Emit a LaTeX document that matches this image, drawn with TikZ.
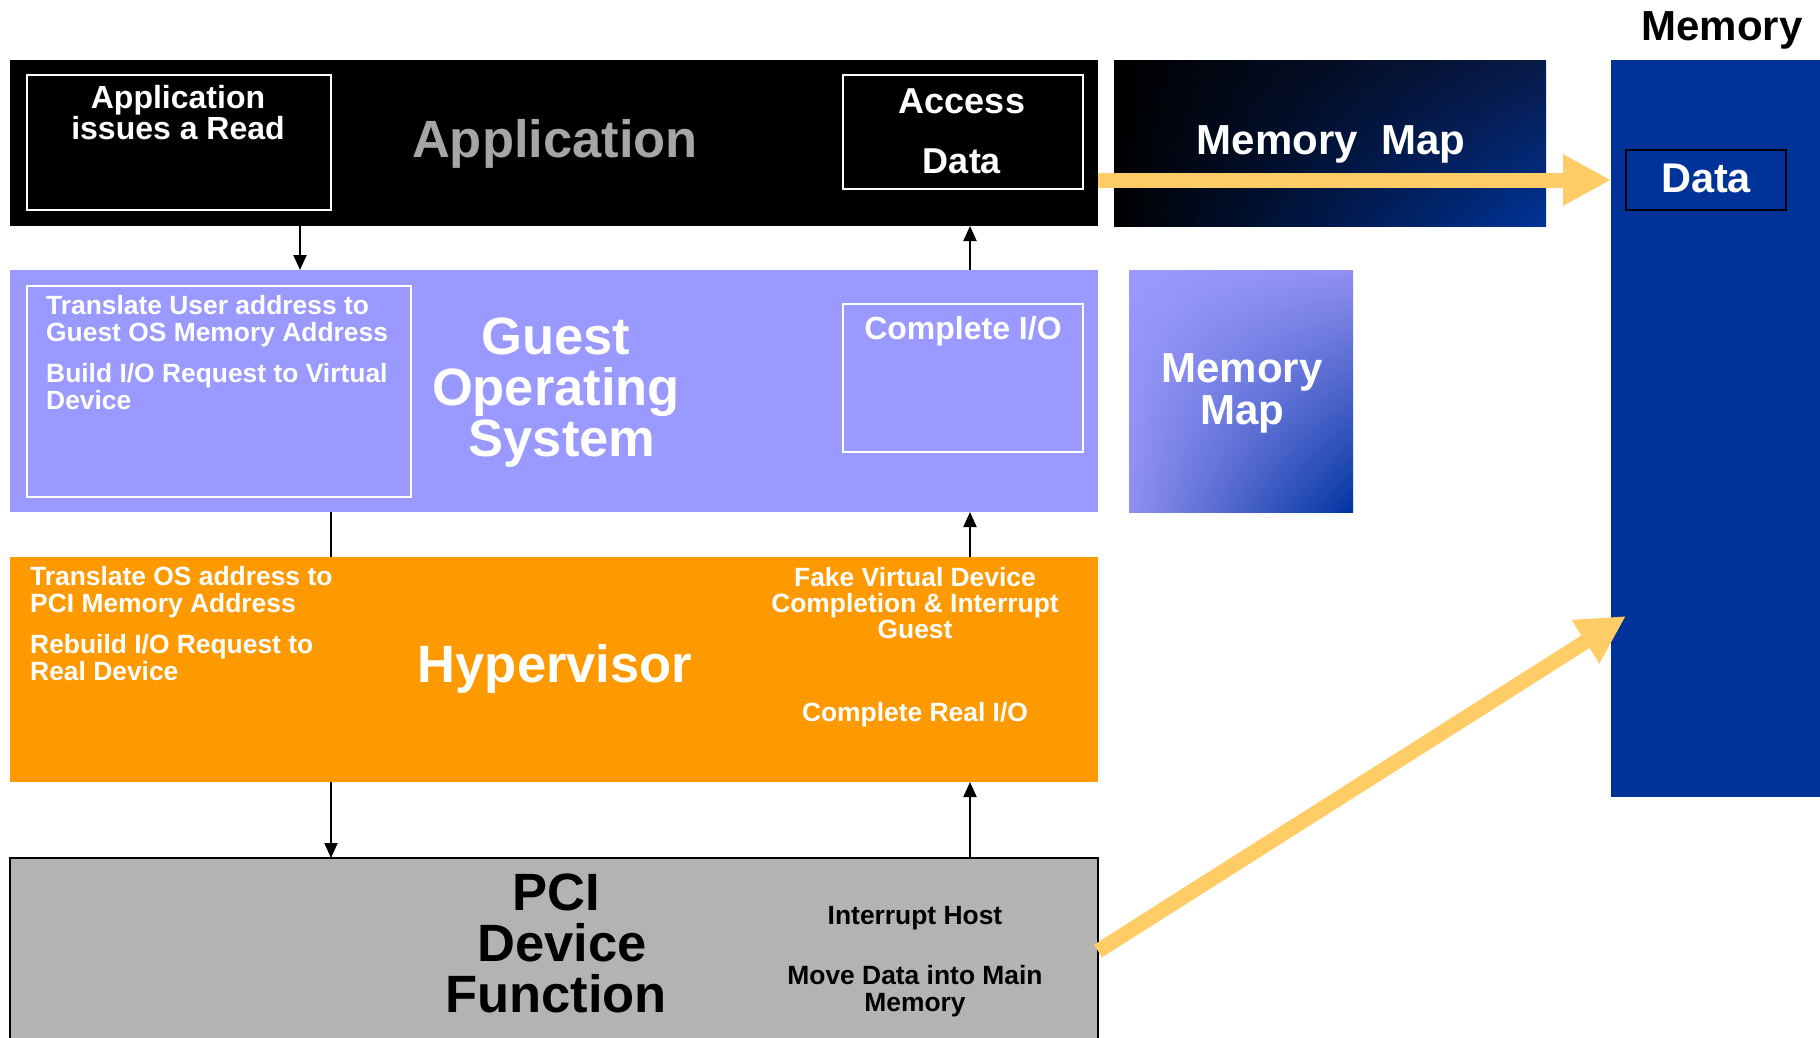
\documentclass[tikz,border=0pt]{standalone}
\usepackage{fontspec}
\setmainfont{Liberation Sans}
\usetikzlibrary{arrows.meta,calc,shadings}
\definecolor{purp}{HTML}{9999FF}
\definecolor{orng}{HTML}{FF9900}
\definecolor{memblue}{HTML}{003399}
\definecolor{yel}{HTML}{FFCC66}
\definecolor{pcigray}{HTML}{B3B3B3}
\definecolor{apptxt}{HTML}{A6A6A6}
\definecolor{darkur}{HTML}{081A48}
\definecolor{mpur}{HTML}{9090F0}
\definecolor{mlr}{HTML}{0033A0}
\begin{document}
\begin{tikzpicture}[x=1pt,y=-1pt,
  layer/.style={rectangle, anchor=north west, inner sep=0pt, outer sep=0pt},
  wbox/.style={layer, draw=white, line width=2.5pt},
  txt/.style={inner sep=0pt, text=white},
  fs/.style={font=\bfseries\fontsize{26.4}{27}\selectfont},
  fm/.style={font=\bfseries\fontsize{32}{31}\selectfont},
  fl/.style={font=\bfseries\fontsize{42}{42}\selectfont},
  fxl/.style={font=\bfseries\fontsize{52.5}{51}\selectfont},
  conn/.style={draw=black, line width=2pt, -{Triangle[length=15pt,width=13pt]}},
  plainconn/.style={draw=black, line width=2pt},
  bigarrow/.style={draw=yel, line width=15pt, -{Triangle[length=48pt,width=48pt]}},
]
\useasboundingbox (0,0) rectangle (1820,1037);
\fill[white] (0,0) rectangle (1820,1037);

% layers
\node[layer, fill=black, minimum width=1088pt, minimum height=166pt] (app) at (10,60) {};
\node[wbox, minimum width=304pt, minimum height=135pt] (appin) at (27,75) {};
\node[wbox, minimum width=240pt, minimum height=114pt] (accbox) at (843,75) {};
\node[layer, shading=bilinear interpolation, upper left=black, lower left=black, upper right=darkur, lower right=memblue, minimum width=432pt, minimum height=166pt] (mmapd) at (1114,60) {};
\node[layer, fill=memblue, minimum width=212pt, minimum height=737pt] (memcol) at (1611,60) {};
\node[layer, fill=memblue, draw=black, line width=2.5pt, minimum width=160pt, minimum height=60pt] (databox) at (1626,150) {};

\node[layer, fill=purp, minimum width=1088pt, minimum height=242pt] (guest) at (10,270) {};
\node[wbox, minimum width=384pt, minimum height=211pt] (guestin) at (27,286) {};
\node[wbox, minimum width=240pt, minimum height=148pt] (ciobox) at (843,304) {};
\node[layer, shading=bilinear interpolation, upper left=purp, upper right=mpur, lower left=mpur, lower right=mlr, minimum width=224pt, minimum height=242pt] (mmapp) at (1129,270) {};

\node[layer, fill=orng, minimum width=1088pt, minimum height=225pt] (hyp) at (10,557) {};
\node[layer, fill=pcigray, draw=black, line width=2.5pt, minimum width=1088pt, minimum height=200pt] (pci) at (10,858) {};

% texts
\node[txt, fm, align=center] (appread) at (178,113) {Application\\issues a Read};
\node[txt, fxl, text=apptxt] (apptitle) at (555,144) {Application};
\node[txt, font=\bfseries\fontsize{36}{60}\selectfont, align=center] (acctxt) at (962,131) {Access\\Data};
\node[txt, fl] (mmapdtxt) at (1331,144) {Memory\ \ Map};
\node[inner sep=0pt, fl, text=black] (memtitle) at (1722,30) {Memory};
\node[txt, font=\bfseries\fontsize{41.5}{42}\selectfont] (datatxt) at ([yshift=2pt]databox.center) {Data};

\node[txt, fs, align=left, anchor=north west] (guesttxt) at (46,295) {Translate User address to\\Guest OS Memory Address\\[14pt]Build I/O Request to Virtual\\Device};
\node[txt, fxl, align=center] (guesttitle) at (556,393) {Guest\\Operating\\\hspace{12pt}System};
\node[txt, font=\bfseries\fontsize{32}{32}\selectfont] (ciotxt) at (963,331) {Complete I/O};
\node[txt, fl, align=center] (mmapptxt) at (1242,393) {Memory\\Map};

\node[txt, fs, align=left, anchor=north west] (hyptxt) at (30,566) {Translate OS address to\\PCI Memory Address\\[14pt]Rebuild I/O Request to\\Real Device};
\node[txt, fxl] (hyptitle) at (555,669) {Hypervisor};
\node[txt, font=\bfseries\fontsize{26.4}{26}\selectfont, align=center] (fake) at (915,603) {Fake Virtual Device\\Completion \& Interrupt\\Guest};
\node[txt, fs] (realio) at (915,715) {Complete Real I/O};

\node[inner sep=0pt, fxl, text=black, align=center] (pcititle) at (556,943) {PCI\\\hspace{12pt}Device\\Function};
\node[inner sep=0pt, fs, text=black] (inthost) at (915,918) {Interrupt Host};
\node[inner sep=0pt, fs, text=black, align=center] (movedata) at (915,991) {Move Data into Main\\Memory};

% connectors
\coordinate (xa) at (300,0);
\coordinate (xb) at (331,0);
\coordinate (xc) at (970,0);
\coordinate (ya) at (0,180);
\coordinate (yd) at (0,951);
\coordinate (dtip) at (1626,616);
\draw[conn] (app.south -| xa) -- (guest.north -| xa);
\draw[conn] (guest.north -| xc) -- (app.south -| xc);
\draw[plainconn] (guest.south -| xb) -- (hyp.north -| xb);
\draw[conn] (hyp.north -| xc) -- (guest.south -| xc);
\draw[conn] (hyp.south -| xb) -- (pci.north -| xb);
\draw[conn] (pci.north -| xc) -- (hyp.south -| xc);

\draw[bigarrow] (app.east |- ya) -- (memcol.west |- ya);
\draw[bigarrow] (pci.east |- yd) -- (dtip);
\end{tikzpicture}
\end{document}
